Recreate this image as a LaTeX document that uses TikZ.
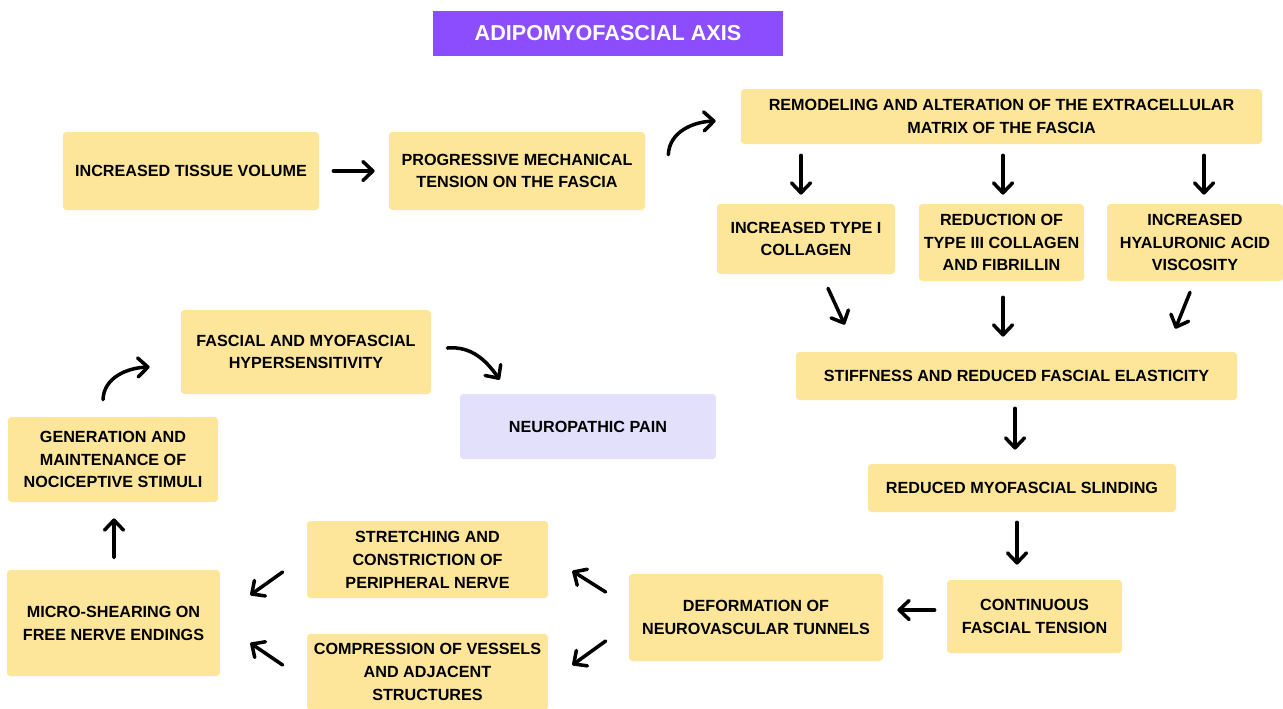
\documentclass[tikz,border=0pt]{standalone}
\usepackage{fontspec}
\setmainfont{Liberation Sans}
\usepackage{xcolor}
\usepackage{tikz}
\usetikzlibrary{
    arrows.meta,
    calc
}
\definecolor{boxyellow}{HTML}{FDE699}
\definecolor{titlepurple}{HTML}{8C4DFF}
\definecolor{painlilac}{HTML}{E2E0FB}

\begin{document}
\begin{tikzpicture}[x=0.02cm, y=-0.02cm,
        sz/.style 2 args={minimum width=#1*0.02cm, minimum height=#2*0.02cm},
        box/.style={fill=boxyellow, rounded corners=2pt, inner sep=0pt, align=center,
            font=\fontsize{9.2}{13}\selectfont\bfseries},
        arr/.style={-{Straight Barb[length=2mm,width=3.8mm,round]}, line width=2pt, line cap=round}]
        \useasboundingbox (0,0) rectangle (1283,708);
        \fill [white] (0,0) rectangle (1283,708);

        \node [fill=titlepurple, text=white, inner sep=0pt, sz={350}{45},
            font=\fontsize{12.3}{14}\selectfont\bfseries] (title) at (608,33.5) {ADIPOMYOFASCIAL AXIS};

        \node [box, sz={256}{78}] (volume) at (191,171) {INCREASED TISSUE VOLUME};
        \node [box, sz={256}{78}] (tension) at (517,171) {PROGRESSIVE MECHANICAL\\TENSION ON THE FASCIA};
        \node [box, sz={521}{55}] (matrix) at (1001.5,116.5) {REMODELING AND ALTERATION OF THE EXTRACELLULAR\\MATRIX OF THE FASCIA};
        \node [box, sz={178}{70}] (collagen) at (806,239) {INCREASED TYPE I\\COLLAGEN};
        \node [box, sz={165}{77}] (fibrillin) at (1001.5,242.5) {REDUCTION OF\\TYPE III COLLAGEN\\AND FIBRILLIN};
        \node [box, sz={176}{77}] (viscosity) at (1195,242.5) {INCREASED\\HYALURONIC ACID\\VISCOSITY};
        \node [box, sz={441}{48}] (stiffness) at (1016.5,376) {STIFFNESS AND REDUCED FASCIAL ELASTICITY};
        \node [box, sz={308}{48}] (sliding) at (1022,488) {REDUCED MYOFASCIAL SLINDING};
        \node [box, sz={175}{73}] (continuous) at (1034.5,616.5) {CONTINUOUS\\FASCIAL TENSION};
        \node [box, sz={254}{87}] (tunnels) at (756,617.5) {DEFORMATION OF\\NEUROVASCULAR TUNNELS};
        \node [box, sz={241}{77}] (nerve) at (427.5,559.5) {STRETCHING AND\\CONSTRICTION OF\\PERIPHERAL NERVE};
        \node [box, sz={241}{76}] (vessels) at (427.5,672) {COMPRESSION OF VESSELS\\AND ADJACENT\\STRUCTURES};
        \node [box, sz={213}{106}] (shearing) at (113.5,623) {MICRO-SHEARING ON\\FREE NERVE ENDINGS};
        \node [box, sz={210}{85}] (stimuli) at (113,459.5) {GENERATION AND\\MAINTENANCE OF\\NOCICEPTIVE STIMULI};
        \node [box, sz={250}{84}] (hyper) at (306,352) {FASCIAL AND MYOFASCIAL\\HYPERSENSITIVITY};
        \node [box, fill=painlilac, sz={256}{65}] (pain) at (588,426.5) {NEUROPATHIC PAIN};

        \draw [arr] ($(volume.east)+(14,0)$) -- ($(tension.west)+(-14,0)$);
        \draw [arr] ($(tension.north east)+(23,23)$) to[out=88,in=182] ($(matrix.west)+(-25,4.5)$);
        \draw [arr] ($(matrix.south -| collagen.north)+(-5,11)$) -- ($(collagen.north)+(-5,-9)$);
        \draw [arr] ($(matrix.south -| fibrillin.north)+(1.5,11)$) -- ($(fibrillin.north)+(1.5,-9)$);
        \draw [arr] ($(matrix.south -| viscosity.north)+(9,11)$) -- ($(viscosity.north)+(9,-9)$);
        \draw [arr] ($(collagen.south)+(22,14)$) -- ($(stiffness.north west)+(49,-27)$);
        \draw [arr] ($(fibrillin.south)+(1.5,16)$) -- ($(stiffness.north -| fibrillin.south)+(1.5,-15)$);
        \draw [arr] ($(viscosity.south)+(-5,11)$) -- ($(stiffness.north east)+(-62,-23)$);
        \draw [arr] ($(stiffness.south)+(-1.5,8)$) -- ($(sliding.north)+(-7,-14)$);
        \draw [arr] ($(sliding.south)+(-5,10)$) -- ($(continuous.north)+(-17.5,-15)$);
        \draw [arr] ($(continuous.west)+(-12,-6.5)$) -- ($(tunnels.east)+(14,-7.5)$);
        \draw [arr] ($(tunnels.west)+(-23,-25.5)$) -- ($(nerve.east)+(24,11.5)$);
        \draw [arr] ($(tunnels.west)+(-23,23.5)$) -- ($(vessels.east)+(24,-7)$);
        \draw [arr] ($(nerve.west)+(-24,12.5)$) -- ($(shearing.east)+(30,-28)$);
        \draw [arr] ($(vessels.west)+(-24,-7)$) -- ($(shearing.east)+(30,20)$);
        \draw [arr] ($(shearing.north)+(0.5,-12)$) -- ($(stimuli.south)+(1,16)$);
        \draw [arr] ($(stimuli.north)+(-10,-17)$) to[out=88,in=182] ($(hyper.west)+(-31,15)$);
        \draw [arr] ($(hyper.east)+(16,-4)$) to[out=5,in=125] ($(pain.north west)+(40,-14)$);
\end{tikzpicture}
\end{document}
